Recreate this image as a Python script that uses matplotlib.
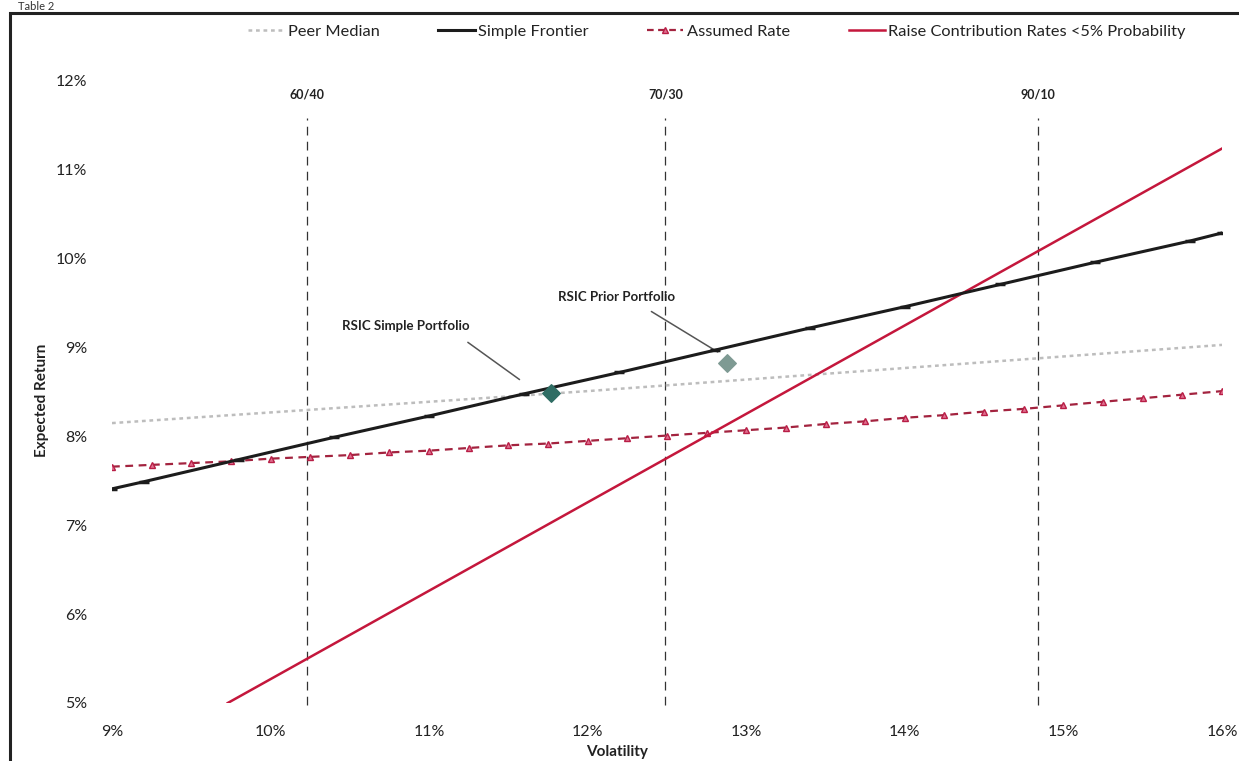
import matplotlib
matplotlib.use("Agg")
import matplotlib.pyplot as plt
from matplotlib.lines import Line2D
from matplotlib.patches import Rectangle
from matplotlib.ticker import FuncFormatter

plt.rcParams['font.family'] = ['Lato', 'DejaVu Sans']

# ---------------- data ----------------
peer_vol = [9.0, 10.0, 11.0, 12.0, 13.0, 14.0, 15.0, 16.0]
peer_ret = [8.15, 8.27, 8.39, 8.51, 8.64, 8.77, 8.90, 9.03]

frontier_vol = [9.0, 9.2, 9.8, 10.4, 11.0, 11.6, 12.2, 12.8, 13.4, 14.0, 14.6, 15.2, 15.8, 16.0]
frontier_ret = [7.41, 7.49, 7.74, 7.99, 8.23, 8.48, 8.72, 8.97, 9.22, 9.46, 9.71, 9.96, 10.20, 10.29]

assumed_vol = [9.0, 9.25, 9.5, 9.75, 10.0, 10.25, 10.5, 10.75, 11.0, 11.25, 11.5, 11.75,
               12.0, 12.25, 12.5, 12.75, 13.0, 13.25, 13.5, 13.75, 14.0, 14.25, 14.5,
               14.75, 15.0, 15.25, 15.5, 15.75, 16.0]
assumed_ret = [7.66, 7.68, 7.70, 7.72, 7.75, 7.77, 7.79, 7.82, 7.84, 7.87, 7.90, 7.92,
               7.95, 7.98, 8.01, 8.04, 8.07, 8.10, 8.14, 8.17, 8.21, 8.24, 8.28,
               8.31, 8.35, 8.39, 8.43, 8.47, 8.51]

raise_vol = [9.73, 16.0]
raise_ret = [5.0, 11.24]

alloc_labels = ["60/40", "70/30", "90/10"]
alloc_vol = [10.23, 12.49, 14.84]

port_labels = ["RSIC Simple Portfolio", "RSIC Prior Portfolio"]
port_vol = [11.77, 12.88]
port_ret = [8.49, 8.83]

x_ticks = [9, 10, 11, 12, 13, 14, 15, 16]
y_ticks = [5, 6, 7, 8, 9, 10, 11, 12]

# ---------------- figure ----------------
W, H = 1239, 761
fig = plt.figure(figsize=(W / 100, H / 100), dpi=100)
fig.patch.set_facecolor('white')

# outer frame
fig.patches.append(Rectangle((10 / W, -0.05), 1.2, 1 - 13 / H + 0.05,
                             transform=fig.transFigure, fill=False,
                             edgecolor='#222222', linewidth=2.2))
fig.text(18 / W, 1 - 1 / H, "Table 2", fontsize=8, va='top', ha='left', color='#333333')

ax = fig.add_axes([112 / W, 1 - 703 / H, 1110 / W, 622 / H])
ax.set_xlim(9, 16)
ax.set_ylim(5, 12)
for s in ax.spines.values():
    s.set_visible(False)

ax.set_xticks(x_ticks)
ax.set_yticks(y_ticks)
ax.xaxis.set_major_formatter(FuncFormatter(lambda v, p: f"{v:.0f}%"))
ax.yaxis.set_major_formatter(FuncFormatter(lambda v, p: f"{v:.0f}%"))
ax.tick_params(axis='x', length=0, pad=16, labelsize=11.5, colors='#222222')
ax.tick_params(axis='y', length=0, pad=18, labelsize=11.5, colors='#222222')

# allocation reference lines
for lab, v in zip(alloc_labels, alloc_vol):
    ax.vlines(v, 4.98, 11.58, colors='#333333', linestyles=(0, (7, 5)), linewidth=0.9, clip_on=False)
    ax.text(v, 11.85, lab, ha='center', va='center', fontsize=9, fontweight='bold', color='#222222')

# series
ax.plot(peer_vol, peer_ret, color='#BDBDBD', linestyle=(0, (1.5, 1.5)), linewidth=1.8, zorder=2)
ax.plot(frontier_vol, frontier_ret, color='#1C1C1C', linewidth=2.2, marker='_',
        markersize=7, markeredgewidth=2.5, zorder=4)
ax.plot(assumed_vol, assumed_ret, color='#A3233F', linestyle=(0, (3.5, 2.5)), linewidth=1.6,
        marker='^', markersize=5, markerfacecolor='#E07090', markeredgecolor='#B81E46',
        markeredgewidth=1.0, zorder=3)
ax.plot(raise_vol, raise_ret, color='#C4173C', linewidth=1.8, zorder=3)

# portfolios
ax.scatter([port_vol[0]], [port_ret[0]], marker='D', s=80, color='#2F6D64', edgecolor='#2F6D64', zorder=5)
ax.scatter([port_vol[1]], [port_ret[1]], marker='D', s=80, color='#7E9A93', edgecolor='#7E9A93', zorder=5)

ax.annotate(port_labels[0], xy=(11.57, 8.64), xytext=(10.85, 9.24),
            ha='center', va='center', fontsize=9.5, fontweight='bold', color='#222222',
            arrowprops=dict(arrowstyle='-', color='#555555', lw=1.1, shrinkA=9, shrinkB=0,
                            relpos=(0.88, 0.0)))
ax.annotate(port_labels[1], xy=(12.82, 8.95), xytext=(12.18, 9.57),
            ha='center', va='center', fontsize=9.5, fontweight='bold', color='#222222',
            arrowprops=dict(arrowstyle='-', color='#555555', lw=1.1, shrinkA=8, shrinkB=0,
                            relpos=(0.68, 0.0)))

# axis labels
fig.text(42 / W, 1 - 400 / H, "Expected Return", rotation=90, ha='center', va='center',
         fontsize=11, fontweight='bold', color='#222222')
fig.text(617 / W, 1 - 752 / H, "Volatility", ha='center', va='center',
         fontsize=11, fontweight='bold', color='#222222')

# legend
handles = [
    Line2D([], [], color='#BDBDBD', linestyle=(0, (1.5, 1.5)), linewidth=1.8),
    Line2D([], [], color='#1C1C1C', linewidth=2.2),
    Line2D([], [], color='#A3233F', linestyle=(0, (3, 2)), linewidth=1.6, marker='^',
           markersize=5, markerfacecolor='#E07090', markeredgecolor='#B81E46'),
    Line2D([], [], color='#C4173C', linewidth=1.8),
]
labels = ["Peer Median", "Simple Frontier", "Assumed Rate", "Raise Contribution Rates <5% Probability"]
fig.legend(handles, labels, loc='center', bbox_to_anchor=(717 / W, 1 - 32 / H), ncol=4,
           frameon=False, fontsize=11.8, handlelength=2.2, handletextpad=0.2,
           columnspacing=3.6, labelcolor='#222222')

fig.savefig("out.png", dpi=100)
